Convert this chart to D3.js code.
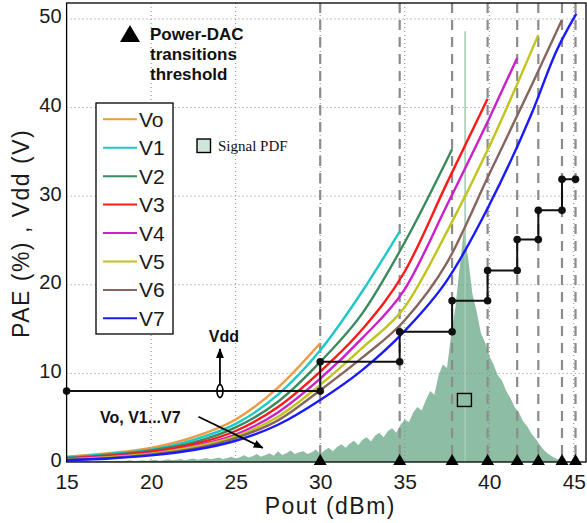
<!DOCTYPE html>
<html>
<head>
<meta charset="utf-8">
<script src="https://cdn.jsdelivr.net/npm/d3@7"></script>
<style>
body { margin: 0; background: #fff; }
svg { display: block; font-family: "Liberation Sans", Arial, sans-serif; }
</style>
</head>
<body>
<div class="chart"></div>
<script>
/* DATA */
// Pout (dBm) where the power DAC switches to the next supply level
var thresholds = [30, 34.7, 37.8, 39.9, 41.65, 42.9, 44.3, 45.1];
// Vdd level (V) used below each threshold
var vddLevels = [8, 11.3, 14.7, 18.2, 21.6, 25.1, 28.4, 31.9];

var seriesNames = ["Vo", "V1", "V2", "V3", "V4", "V5", "V6", "V7"];
var seriesColors = ["#ee9a3e", "#1fc8c8", "#3a8a5e", "#ff1a1a", "#cc1fcc", "#c2c41c", "#87645f", "#1a1aff"];

// PAE (%) vs Pout (dBm), one curve per supply voltage
var paeVo = [[15, 0.6], [17.5, 1.0], [20, 1.6], [22.5, 2.8], [25, 4.8], [27.5, 8.4], [30, 13.4]];
var paeV1 = [[15, 0.5], [17.5, 0.9], [20, 1.4], [22.5, 2.5], [25, 4.3], [27.5, 7.6], [30, 12.6], [32.5, 19.3], [34.7, 26.0]];
var paeV2 = [[15, 0.45], [17.5, 0.8], [20, 1.3], [22.5, 2.2], [25, 3.9], [27.5, 6.8], [30, 11.3], [32.5, 16.8], [35, 24.8], [37.8, 35.3]];
var paeV3 = [[15, 0.4], [17.5, 0.7], [20, 1.15], [22.5, 2.0], [25, 3.5], [27.5, 6.2], [30, 10.2], [32.5, 15.0], [35, 21.5], [37.5, 31.5], [39.9, 41.0]];
var paeV4 = [[15, 0.35], [17.5, 0.6], [20, 1.0], [22.5, 1.8], [25, 3.1], [27.5, 5.6], [30, 9.4], [32.5, 14.0], [35, 19.5], [37.5, 29.0], [40, 38.8], [41.65, 45.6]];
var paeV5 = [[15, 0.3], [17.5, 0.55], [20, 0.95], [22.5, 1.7], [25, 2.9], [27.5, 5.1], [30, 8.7], [32.5, 12.9], [35, 17.5], [37.5, 26.0], [40, 35.6], [42.9, 48.2]];
var paeV6 = [[15, 0.25], [17.5, 0.45], [20, 0.85], [22.5, 1.5], [25, 2.7], [27.5, 4.7], [30, 8.1], [32.5, 11.8], [35, 16.0], [37.5, 22.5], [40, 32.5], [42.5, 42.5], [44.3, 49.9]];
var paeV7 = [[15, 0.2], [17.5, 0.4], [20, 0.75], [22.5, 1.35], [25, 2.4], [27.5, 4.2], [30, 7.0], [32.5, 10.4], [35, 14.8], [37.5, 20.5], [40, 29.0], [42.5, 39.3], [44, 46.5], [45.15, 50.6]];
var paeCurves = [paeVo, paeV1, paeV2, paeV3, paeV4, paeV5, paeV6, paeV7];

// signal PDF (arbitrary units on the same axis), 0.25 dBm bins from 15 dBm
var pdfStart = 15;
var pdfStep = 0.25;
var pdfValues = [
    0.05, 0.05, 0.1, 0.05, 0.1, 0.1, 0.05, 0.1, 0.1, 0.15, 0.1, 0.1, 0.15, 0.1, 0.15, 0.2,
    0.1, 0.15, 0.2, 0.15, 0.2, 0.25, 0.15, 0.2, 0.3, 0.2, 0.25, 0.35, 0.2, 0.3, 0.4, 0.25,
    0.35, 0.45, 0.3, 0.4, 0.5, 0.35, 0.45, 0.6, 0.4, 0.55, 0.75, 0.5, 0.65, 0.9, 0.6, 0.8,
    1.0, 0.7, 1.2, 0.8, 1.0, 1.3, 0.9, 1.1, 1.2, 0.9, 1.1, 1.4, 0.9, 1.3, 1.6, 1.2,
    1.7, 2.0, 1.6, 2.1, 2.4, 1.9, 2.5, 2.8, 2.3, 3.0, 3.3, 2.8, 3.5, 3.8, 3.3, 4.2,
    4.8, 4.5, 5.6, 6.2, 5.8, 7.0, 8.0, 7.6, 9.8, 11.0, 10.6, 14.5, 17.5, 22.0, 26.2, 23.0,
    19.0, 17.0, 14.6, 13.5, 12.0, 11.0, 9.8, 9.2, 8.0, 7.2, 6.2, 5.6, 4.6, 4.0, 3.2, 2.6,
    1.9, 1.3, 0.9, 0.6, 0.35, 0.2, 0.1, 0.05, 0
];
var pdfSpike = [38.57, 48.6];

var xTicks = [15, 20, 25, 30, 35, 40, 45];
var yTicks = [0, 10, 20, 30, 40, 50];

/* SET UP */
var svgWidth = 587, svgHeight = 523;
var margin = { top: 3, right: 1, bottom: 61, left: 66.6 };
var width = svgWidth - margin.left - margin.right;
var height = svgHeight - margin.top - margin.bottom;

var xScale = d3.scaleLinear().domain([15, 45.72]).range([0, width]);
var yScale = d3.scaleLinear().domain([0, 51.8]).range([height, 0]);

var svg = d3.select(".chart").append("svg")
    .attr("width", svgWidth)
    .attr("height", svgHeight);

var defs = svg.append("defs");
defs.append("marker")
    .attr("id", "head")
    .attr("viewBox", "0 0 10 10")
    .attr("refX", 9).attr("refY", 5)
    .attr("markerWidth", 10).attr("markerHeight", 10)
    .attr("markerUnits", "userSpaceOnUse")
    .attr("orient", "auto")
    .append("path").attr("d", "M0,1 L10,5 L0,9 Z").attr("fill", "#000");

var g = svg.append("g")
    .attr("transform", "translate(" + margin.left + "," + margin.top + ")");

// signal PDF
var pdfData = pdfValues.map(function(v, i) { return { p: pdfStart + i * pdfStep, v: v }; });
g.append("path")
    .datum(pdfData)
    .attr("fill", "#8dbea3")
    .attr("d", d3.area()
        .x(function(d) { return xScale(d.p); })
        .y0(height)
        .y1(function(d) { return yScale(d.v); }));
g.append("line")
    .attr("x1", xScale(pdfSpike[0])).attr("x2", xScale(pdfSpike[0]))
    .attr("y1", height).attr("y2", yScale(pdfSpike[1]))
    .attr("stroke", "#a3cdb7").attr("stroke-width", 1.6);

// dotted grid
g.selectAll(".gx").data(xTicks.slice(1)).enter().append("line")
    .attr("x1", function(d) { return xScale(d); }).attr("x2", function(d) { return xScale(d); })
    .attr("y1", 0).attr("y2", height)
    .attr("stroke", "#8a8a8a").attr("stroke-width", 1).attr("stroke-dasharray", "1,3");
g.selectAll(".gy").data(yTicks.slice(1)).enter().append("line")
    .attr("x1", 0).attr("x2", width)
    .attr("y1", function(d) { return yScale(d); }).attr("y2", function(d) { return yScale(d); })
    .attr("stroke", "#8a8a8a").attr("stroke-width", 1).attr("stroke-dasharray", "1,3");

// threshold dashed lines
g.selectAll(".thr").data(thresholds).enter().append("line")
    .attr("x1", function(d) { return xScale(d); }).attr("x2", function(d) { return xScale(d); })
    .attr("y1", 0).attr("y2", height)
    .attr("stroke", "#8c8c8c").attr("stroke-width", 2.2).attr("stroke-dasharray", "10,7");

// PAE curves
var line = d3.line()
    .curve(d3.curveMonotoneX)
    .x(function(d) { return xScale(d[0]); })
    .y(function(d) { return yScale(d[1]); });
g.selectAll(".pae").data(paeCurves).enter().append("path")
    .attr("fill", "none")
    .attr("stroke", function(d, i) { return seriesColors[i]; })
    .attr("stroke-width", 2.4)
    .attr("d", line);

// Vdd staircase
var vddPts = [[15, vddLevels[0]]];
thresholds.forEach(function(t, i) {
    vddPts.push([t, vddLevels[i]]);
    if (i + 1 < vddLevels.length) vddPts.push([t, vddLevels[i + 1]]);
});
g.append("path")
    .datum(vddPts)
    .attr("fill", "none").attr("stroke", "#111").attr("stroke-width", 2)
    .attr("d", d3.line()
        .x(function(d) { return xScale(d[0]); })
        .y(function(d) { return yScale(d[1]); }));
g.selectAll(".vdot").data(vddPts).enter().append("circle")
    .attr("cx", function(d) { return xScale(d[0]); })
    .attr("cy", function(d) { return yScale(d[1]); })
    .attr("r", 3.8).attr("fill", "#111");

// threshold triangles on the x axis
g.selectAll(".tri").data(thresholds).enter().append("path")
    .attr("fill", "#000")
    .attr("d", function(d) {
        var x = xScale(d), y = height;
        return "M" + (x - 6.5) + "," + (y + 3) + "L" + x + "," + (y - 8) + "L" + (x + 6.5) + "," + (y + 3) + "Z";
    });

// axes
var xAxis = g.append("g")
    .attr("transform", "translate(0," + height + ")")
    .call(d3.axisBottom(xScale).tickValues(xTicks).tickSize(0).tickPadding(12.5));
var yAxis = g.append("g")
    .call(d3.axisLeft(yScale).tickValues(yTicks).tickSize(0).tickPadding(5));
[xAxis, yAxis].forEach(function(ax) {
    ax.select(".domain").remove();
    ax.selectAll("text").attr("font-size", 21).attr("fill", "#1a1a1a")
        .attr("font-family", "'Liberation Sans', Arial, sans-serif");
});
yAxis.selectAll("text").attr("font-size", 20).attr("dy", "0.2em");

g.append("rect")
    .attr("width", width).attr("height", height)
    .attr("fill", "none").attr("stroke", "#000").attr("stroke-width", 1.3);

// axis titles
svg.append("text")
    .attr("x", margin.left + xScale(30.6)).attr("y", 514)
    .attr("text-anchor", "middle").attr("font-size", 23).attr("letter-spacing", 1.5)
    .attr("fill", "#1a1a1a")
    .text("Pout (dBm)");
svg.append("text")
    .attr("transform", "translate(29," + (margin.top + yScale(25.8)) + ") rotate(-90)")
    .attr("text-anchor", "middle").attr("font-size", 23).attr("letter-spacing", 1.5)
    .attr("fill", "#1a1a1a")
    .text("PAE (%) , Vdd (V)");

// power-DAC annotation
svg.append("path")
    .attr("d", "M120,42 L130,25 L140,42 Z").attr("fill", "#000");
var ann = svg.append("text").attr("font-size", 17).attr("font-weight", "bold").attr("fill", "#111");
["Power-DAC", "transitions", "threshold"].forEach(function(s, i) {
    ann.append("tspan").attr("x", 150).attr("y", 39.5 + i * 20.3).text(s);
});

// Vdd marker: ellipse + arrow
var ex = xScale(24.07), ey = yScale(vddLevels[0]);
g.append("ellipse").attr("cx", ex).attr("cy", ey).attr("rx", 3).attr("ry", 6.5)
    .attr("fill", "none").attr("stroke", "#000").attr("stroke-width", 1.6);
g.append("line").attr("x1", ex).attr("x2", ex).attr("y1", ey - 6.5).attr("y2", ey - 42)
    .attr("stroke", "#000").attr("stroke-width", 1.8).attr("marker-end", "url(#head)");
g.append("text").attr("x", ex + 4).attr("y", ey - 49)
    .attr("text-anchor", "middle").attr("font-size", 16).attr("font-weight", "bold").attr("fill", "#111")
    .text("Vdd");

// Vo..V7 arrow
g.append("line")
    .attr("x1", xScale(22.8)).attr("y1", yScale(5.1))
    .attr("x2", xScale(26.6)).attr("y2", yScale(1.6))
    .attr("stroke", "#000").attr("stroke-width", 1.8).attr("marker-end", "url(#head)");
svg.append("text").attr("x", 100).attr("y", 422.5)
    .attr("font-size", 16).attr("font-weight", "bold").attr("fill", "#111")
    .text("Vo, V1...V7");

// legend
var leg = svg.append("g");
leg.append("rect").attr("x", 96).attr("y", 103).attr("width", 77).attr("height", 231)
    .attr("fill", "#fff").attr("stroke", "#000").attr("stroke-width", 1.3);
seriesNames.forEach(function(name, i) {
    var ly = 119.3 + i * 28.43;
    leg.append("line").attr("x1", 103).attr("x2", 137).attr("y1", ly).attr("y2", ly)
        .attr("stroke", seriesColors[i]).attr("stroke-width", 2);
    leg.append("text").attr("x", 139).attr("y", ly + 7.5)
        .attr("font-size", 21).attr("fill", "#1a1a1a").text(name);
});

// signal PDF key
svg.append("rect").attr("x", 197).attr("y", 139).attr("width", 13.5).attr("height", 13.5)
    .attr("fill", "#cfe6d9").attr("stroke", "#000").attr("stroke-width", 1.4);
svg.append("text").attr("x", 218).attr("y", 151)
    .attr("font-family", "'Liberation Serif', 'Times New Roman', serif")
    .attr("font-size", 15).attr("fill", "#111").text("Signal PDF");

// small PDF box inside histogram
g.append("rect")
    .attr("x", xScale(38.53) - 7).attr("y", yScale(7.0) - 6.5)
    .attr("width", 14).attr("height", 13)
    .attr("fill", "#8dbea3").attr("stroke", "#000").attr("stroke-width", 1.4);
</script>
</body>
</html>
